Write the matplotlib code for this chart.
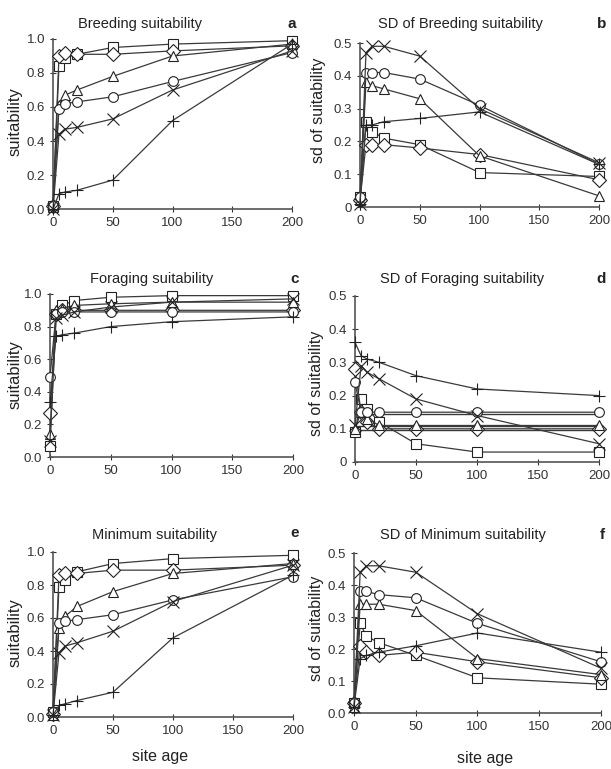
import matplotlib
matplotlib.use('Agg')
import matplotlib.pyplot as plt

# DATA -----------------------------------------------------------------------

AGES = [0, 5, 10, 20, 50, 100, 200]  # site age values on the x axis.

# Series order in every panel: square, diamond, triangle, circle, x, plus.
MARKERS = ['s', 'D', '^', 'o', 'x', '+']

BREED = [[0.02, 0.84, 0.89, 0.91, 0.95, 0.97, 0.99],
         [0.02, 0.90, 0.92, 0.91, 0.91, 0.93, 0.96],
         [0.01, 0.61, 0.67, 0.70, 0.78, 0.90, 0.97],
         [0.02, 0.59, 0.62, 0.63, 0.66, 0.75, 0.92],
         [0.00, 0.44, 0.47, 0.48, 0.53, 0.70, 0.93],
         [0.00, 0.09, 0.10, 0.11, 0.17, 0.52, 0.97]]

SD_BREED = [[0.03, 0.26, 0.23, 0.21, 0.19, 0.105, 0.093],
            [0.02, 0.19, 0.19, 0.19, 0.18, 0.16, 0.083],
            [0.02, 0.38, 0.37, 0.36, 0.33, 0.156, 0.034],
            [0.03, 0.41, 0.41, 0.41, 0.39, 0.31, 0.13],
            [0.01, 0.47, 0.49, 0.49, 0.46, 0.30, 0.135],
            [0.01, 0.25, 0.25, 0.26, 0.27, 0.29, 0.13]]

FORAGE = [[0.07, 0.88, 0.93, 0.96, 0.98, 0.99, 0.99],
          [0.27, 0.88, 0.90, 0.90, 0.90, 0.90, 0.90],
          [0.14, 0.90, 0.91, 0.93, 0.94, 0.95, 0.95],
          [0.49, 0.88, 0.89, 0.89, 0.89, 0.89, 0.89],
          [0.10, 0.85, 0.87, 0.89, 0.92, 0.95, 0.97],
          [0.34, 0.74, 0.75, 0.76, 0.80, 0.83, 0.86]]

SD_FORAGE = [[0.09, 0.19, 0.16, 0.12, 0.055, 0.03, 0.03],
             [0.28, 0.15, 0.12, 0.10, 0.10, 0.10, 0.10],
             [0.10, 0.15, 0.13, 0.11, 0.11, 0.11, 0.11],
             [0.24, 0.15, 0.15, 0.15, 0.15, 0.15, 0.15],
             [0.11, 0.29, 0.27, 0.25, 0.19, 0.14, 0.055],
             [0.36, 0.32, 0.31, 0.30, 0.26, 0.22, 0.20]]
SD_FORAGE_LEVELS = [0.146, 0.108, 0.097]  # flat lines across panel d.

MINIMUM = [[0.03, 0.79, 0.83, 0.88, 0.93, 0.96, 0.98],
           [0.02, 0.86, 0.87, 0.87, 0.89, 0.89, 0.92],
           [0.01, 0.54, 0.61, 0.67, 0.76, 0.87, 0.93],
           [0.03, 0.57, 0.58, 0.59, 0.62, 0.71, 0.85],
           [0.01, 0.39, 0.43, 0.45, 0.52, 0.70, 0.92],
           [0.01, 0.07, 0.08, 0.10, 0.15, 0.48, 0.86]]

SD_MINIMUM = [[0.03, 0.28, 0.24, 0.22, 0.18, 0.11, 0.09],
              [0.03, 0.21, 0.19, 0.18, 0.19, 0.16, 0.11],
              [0.02, 0.34, 0.34, 0.34, 0.32, 0.17, 0.12],
              [0.03, 0.38, 0.38, 0.37, 0.36, 0.28, 0.16],
              [0.02, 0.44, 0.46, 0.46, 0.44, 0.31, 0.14],
              [0.02, 0.17, 0.18, 0.19, 0.21, 0.25, 0.19]]

TITLES = ['Breeding suitability', 'SD of Breeding suitability',
          'Foraging suitability', 'SD of Foraging suitability',
          'Minimum suitability', 'SD of Minimum suitability']
LETTERS = ['a', 'b', 'c', 'd', 'e', 'f']
MEAN_TICKS = ['0.0', '0.2', '0.4', '0.6', '0.8', '1.0']
SD_TICKS_AB = ['0', '0.1', '0.2', '0.3', '0.4', '0.5']
SD_TICKS_F = ['0.0', '0.1', '0.2', '0.3', '0.4', '0.5']
X_TICKS = [0, 50, 100, 150, 200]

# STYLE ----------------------------------------------------------------------

plt.rcParams['font.family'] = ['Liberation Sans', 'DejaVu Sans']
LINE_COL = '#3a3a3a'
TEXT_COL = '#222222'

W, H = 611, 769
fig = plt.figure(figsize=(W / 100, H / 100), dpi=100)


def px_axes(left, top, right, bottom):
    # Axes from pixel box of the reference picture.
    return fig.add_axes([left / W, 1 - bottom / H,
                         (right - left) / W, (bottom - top) / H])


# Panel boxes (left, top, right, bottom) in pixels.
BOXES = [(53, 39, 292, 209), (360, 43, 599, 207),
         (50, 294, 293, 457), (355, 296, 599, 462),
         (53, 552, 293, 717), (354, 553, 601, 713)]
TITLE_POS = [(140, 24), (460, 24), (152, 279), (462, 279),
             (155, 535), (463, 535)]
LETTER_POS = [(292, 24), (602, 24), (295, 279), (601, 279),
              (295, 533), (602, 535)]
YLABEL_POS = [(15, 122), (319, 110), (15, 375), (317, 383),
              (15, 633), (317, 628)]

PANELS = [BREED, SD_BREED, FORAGE, SD_FORAGE, MINIMUM, SD_MINIMUM]

for k, data in enumerate(PANELS):
    ax = px_axes(*BOXES[k])
    is_sd = k % 2 == 1

    if k == 3:
        for lev in SD_FORAGE_LEVELS:
            ax.plot([AGES[0], AGES[-1]], [lev, lev], color=LINE_COL,
                    lw=1.0, clip_on=False)

    for series, mk in zip(data, MARKERS):
        ms = 8 if mk in ('x', '+') else 7
        ax.plot(AGES, series, color=LINE_COL, lw=0.9, marker=mk,
                markersize=ms, markerfacecolor='white',
                markeredgecolor='#222222', markeredgewidth=0.8,
                clip_on=False, zorder=3)

    ax.set_xlim(0, 200)
    ax.set_xticks(X_TICKS)
    if is_sd:
        ax.set_ylim(0, 0.5)
        ax.set_yticks([0, 0.1, 0.2, 0.3, 0.4, 0.5])
        ax.set_yticklabels(SD_TICKS_F if k == 5 else SD_TICKS_AB)
        ylabel = 'sd of suitability'
        ysize = 11.5
    else:
        ax.set_ylim(0, 1.0)
        ax.set_yticks([0, 0.2, 0.4, 0.6, 0.8, 1.0])
        ax.set_yticklabels(MEAN_TICKS)
        ylabel = 'suitability'
        ysize = 12

    for side in ('top', 'right'):
        ax.spines[side].set_visible(False)
    for side in ('left', 'bottom'):
        ax.spines[side].set_color('#555555')
        ax.spines[side].set_linewidth(1.2)
    ax.tick_params(direction='inout', length=5, width=0.8,
                   labelsize=9.5, colors='#333333', pad=3)
    ax.set_facecolor('none')

    tx, ty = TITLE_POS[k]
    fig.text(tx / W, 1 - ty / H, TITLES[k], ha='center', va='center',
             fontsize=10.5, color=TEXT_COL)
    lx, ly = LETTER_POS[k]
    fig.text(lx / W, 1 - ly / H, LETTERS[k], ha='center', va='center',
             fontsize=11, fontweight='bold', color=TEXT_COL)
    yx, yy = YLABEL_POS[k]
    fig.text(yx / W, 1 - yy / H, ylabel, ha='center', va='center',
             rotation=90, fontsize=ysize, color=TEXT_COL)

fig.text(160 / W, 1 - 756 / H, 'site age', ha='center', va='center',
         fontsize=11.5, color=TEXT_COL)
fig.text(485 / W, 1 - 758 / H, 'site age', ha='center', va='center',
         fontsize=11.5, color=TEXT_COL)

fig.savefig('out.png', dpi=100, facecolor='white')
